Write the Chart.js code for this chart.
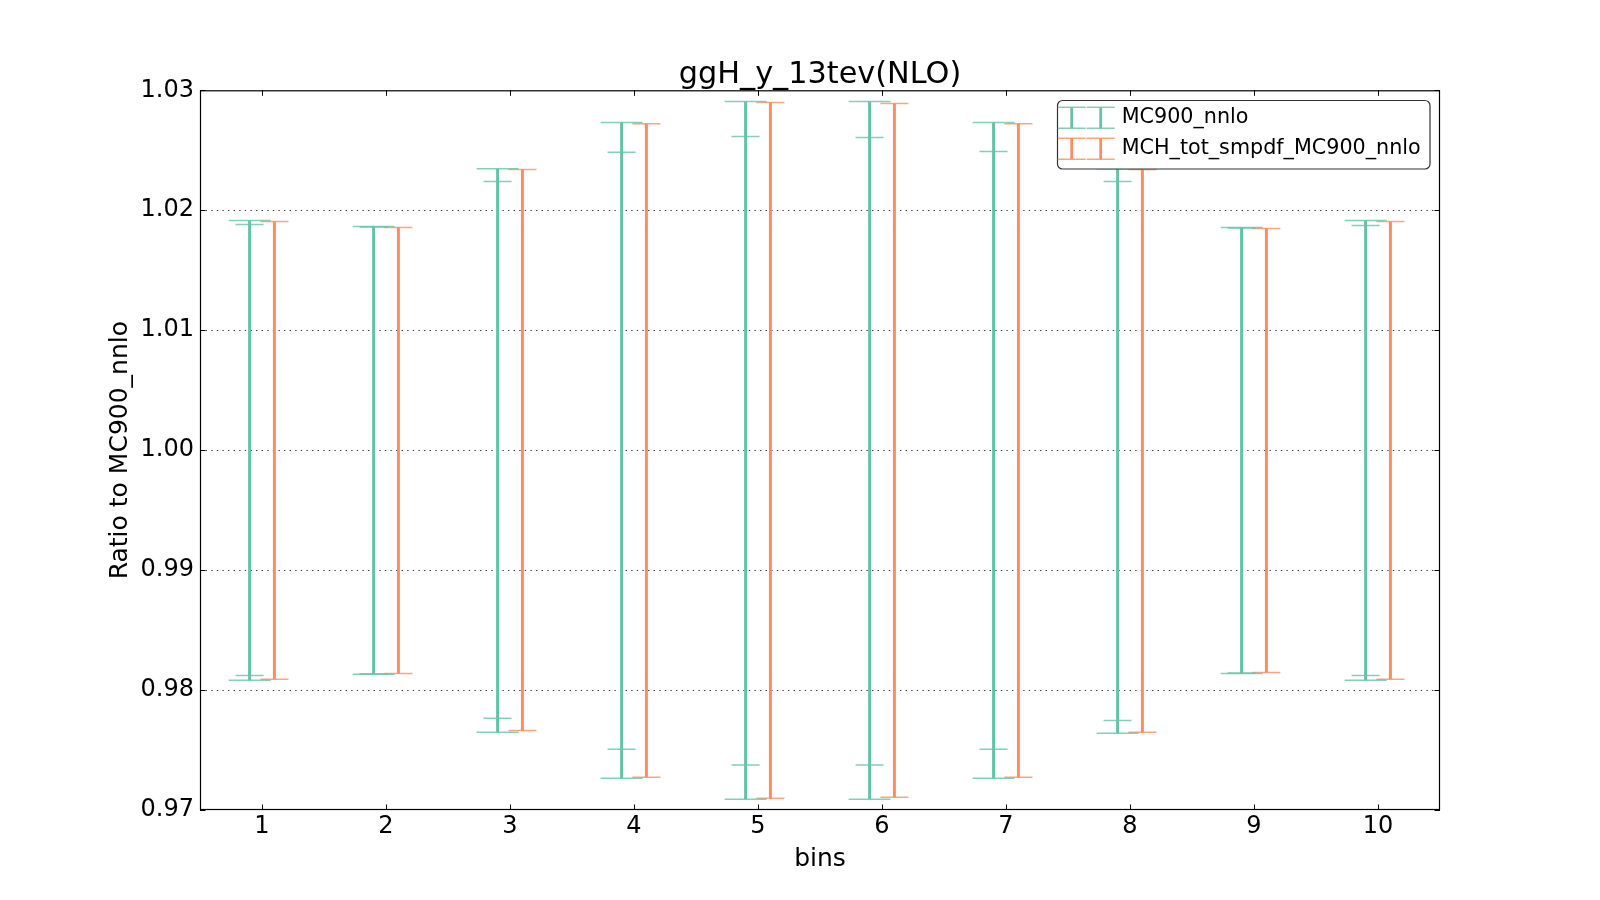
<!DOCTYPE html>
<html><head><meta charset="utf-8">
<script src="https://cdn.jsdelivr.net/npm/chart.js@4.4.0/dist/chart.umd.min.js"></script>
<style>html,body{margin:0;padding:0;background:#fff;overflow:hidden;}</style>
</head><body>
<canvas id="c" width="1600" height="900"></canvas>
<script>
// ---- data ----
const bins = [1, 2, 3, 4, 5, 6, 7, 8, 9, 10];
const xTickLabels = ['1', '2', '3', '4', '5', '6', '7', '8', '9', '10'];
const yTicks = [0.97, 0.98, 0.99, 1.00, 1.01, 1.02, 1.03];
const yTickLabels = ['0.97', '0.98', '0.99', '1.00', '1.01', '1.02', '1.03'];
const seriesNames = ['MC900_nnlo', 'MCH_tot_smpdf_MC900_nnlo'];
const titleText = 'ggH_y_13tev(NLO)';
const xLabel = 'bins';
const yLabel = 'Ratio to MC900_nnlo';

// MC900_nnlo: outer band (wide caps) and inner band (narrow caps)
const mc900Upper      = [1.01914, 1.01864, 1.02347, 1.02731, 1.02906, 1.02906, 1.02731, 1.02347, 1.01856, 1.01914];
const mc900Lower      = [0.98081, 0.98131, 0.97648, 0.97264, 0.97089, 0.97089, 0.97264, 0.97639, 0.98139, 0.98081];
const mc900InnerUpper = [1.01881, 1.01860, 1.02239, 1.02483, 1.02614, 1.02606, 1.02489, 1.02239, 1.01852, 1.01872];
const mc900InnerLower = [0.98122, 0.98135, 0.97764, 0.97506, 0.97375, 0.97375, 0.97506, 0.97747, 0.98143, 0.98122];
// MCH_tot_smpdf_MC900_nnlo
const mchUpper        = [1.01906, 1.01856, 1.02339, 1.02722, 1.02898, 1.02889, 1.02722, 1.02339, 1.01848, 1.01906];
const mchLower        = [0.98089, 0.98139, 0.97662, 0.97273, 0.97098, 0.97106, 0.97273, 0.97648, 0.98147, 0.98089];

// ---- styling ----
const GREEN = '#66c2a5';
const ORANGE = '#fc8d62';
const GREEN_CAP = 'rgba(102,194,165,0.8)';
const ORANGE_CAP = 'rgba(252,141,98,0.8)';
const SHIFT = 0.1;
const FONT = "'DejaVu Sans', sans-serif";

Chart.defaults.font.family = FONT;
Chart.defaults.color = '#000';

function barLine(lo, hi, dx) {
  const out = [];
  bins.forEach((b, i) => {
    out.push({x: b + dx, y: lo[i]});
    out.push({x: b + dx, y: hi[i]});
    out.push({x: b + dx, y: null});
  });
  return out;
}
function capPts(lo, hi, dx) {
  const out = [];
  bins.forEach((b, i) => {
    out.push({x: b + dx, y: hi[i]});
    out.push({x: b + dx, y: lo[i]});
  });
  return out;
}
function capSet(data, color, r) {
  return {type: 'line', data, showLine: false, pointStyle: 'line', pointRadius: r, pointHoverRadius: r,
          pointBorderWidth: 1.5, pointBorderColor: color, pointBackgroundColor: color, borderColor: color};
}
function lineSet(data, color) {
  return {type: 'line', data, borderColor: color, borderWidth: 3, pointRadius: 0, spanGaps: false, fill: false, tension: 0};
}

const frameTicks = {
  id: 'frameTicks',
  afterDatasetsDraw(chart) {
    const {ctx, chartArea: a, scales: {x, y}} = chart;
    ctx.save();
    ctx.strokeStyle = '#000';
    ctx.lineWidth = 1;
    ctx.beginPath();
    bins.forEach(b => {
      const px = Math.round(x.getPixelForValue(b)) + 0.5;
      ctx.moveTo(px, a.bottom); ctx.lineTo(px, a.bottom - 5.5);
      ctx.moveTo(px, a.top); ctx.lineTo(px, a.top + 5.5);
    });
    yTicks.forEach(v => {
      const py = Math.round(y.getPixelForValue(v)) + 0.5;
      ctx.moveTo(a.left, py); ctx.lineTo(a.left + 5.5, py);
      ctx.moveTo(a.right, py); ctx.lineTo(a.right - 5.5, py);
    });
    ctx.stroke();
    ctx.lineWidth = 1.2;
    ctx.strokeRect(a.left + 0.5, a.top + 0.5, a.right - a.left - 1, a.bottom - a.top - 1);
    ctx.restore();
  }
};

const errLegend = {
  id: 'errLegend',
  afterDraw(chart) {
    const ctx = chart.ctx;
    const bx = 1057.5, by = 100.5, bw = 372.5, bh = 68.5, r = 5;
    ctx.save();
    ctx.beginPath();
    ctx.roundRect(bx, by, bw, bh, r);
    ctx.fillStyle = '#fff';
    ctx.fill();
    ctx.lineWidth = 1.2;
    ctx.strokeStyle = '#333';
    ctx.stroke();
    const entries = [
      {name: seriesNames[0], color: GREEN, cap: GREEN_CAP, top: 107.3, bot: 128.3},
      {name: seriesNames[1], color: ORANGE, cap: ORANGE_CAP, top: 138.3, bot: 159.3}
    ];
    entries.forEach(e => {
      [1071.7, 1100.7].forEach(lx => {
        ctx.strokeStyle = e.color; ctx.lineWidth = 2.8;
        ctx.beginPath(); ctx.moveTo(lx, e.top); ctx.lineTo(lx, e.bot); ctx.stroke();
        ctx.strokeStyle = e.cap; ctx.lineWidth = 1.5;
        ctx.beginPath();
        ctx.moveTo(lx - 14, e.top); ctx.lineTo(lx + 14, e.top);
        ctx.moveTo(lx - 14, e.bot); ctx.lineTo(lx + 14, e.bot);
        ctx.stroke();
      });
      ctx.fillStyle = '#000';
      ctx.font = "20.7px " + FONT;
      ctx.textBaseline = 'middle';
      ctx.textAlign = 'left';
      ctx.fillText(e.name, 1121.7, (e.top + e.bot) / 2);
    });
    ctx.restore();
  }
};

new Chart(document.getElementById('c'), {
  type: 'line',
  data: {
    datasets: [
      lineSet(barLine(mc900Lower, mc900Upper, -SHIFT), GREEN),
      capSet(capPts(mc900Lower, mc900Upper, -SHIFT), GREEN_CAP, 21),
      capSet(capPts(mc900InnerLower, mc900InnerUpper, -SHIFT), GREEN_CAP, 14),
      lineSet(barLine(mchLower, mchUpper, SHIFT), ORANGE),
      capSet(capPts(mchLower, mchUpper, SHIFT), ORANGE_CAP, 14)
    ]
  },
  options: {
    responsive: false,
    animation: false,
    devicePixelRatio: 1,
    events: [],
    layout: {padding: {left: 0, right: 160, top: 0, bottom: 0}},
    plugins: {
      legend: {display: false},
      tooltip: {enabled: false},
      title: {
        display: true, text: titleText, color: '#000', fullSize: false,
        font: {family: FONT, size: 30.3, weight: 'normal', lineHeight: 1.0},
        padding: {top: 60, bottom: 0}
      }
    },
    scales: {
      x: {
        type: 'linear', min: 0.5, max: 10.5,
        afterFit(s) { s.height = 90; },
        afterBuildTicks(s) { s.ticks = bins.map(v => ({value: v})); },
        grid: {display: false, drawTicks: false},
        border: {display: false},
        ticks: {
          font: {family: FONT, size: 24}, color: '#000', padding: 2.4, maxRotation: 0, autoSkip: false,
          callback(v, i) { return xTickLabels[i]; }
        },
        title: {display: true, text: xLabel, color: '#000', font: {family: FONT, size: 25, lineHeight: 1.2}, padding: {top: 0, bottom: 26}}
      },
      y: {
        type: 'linear', min: 0.97, max: 1.03,
        afterFit(s) { s.width = 200; },
        afterBuildTicks(s) { s.ticks = yTicks.map(v => ({value: v})); },
        grid: {
          drawTicks: false, lineWidth: 1,
          color(ctx) { return (ctx.index === 0 || ctx.index === yTicks.length - 1) ? 'rgba(0,0,0,0)' : 'rgba(0,0,0,0.75)'; }
        },
        border: {display: false, dash: [1.4, 4.2]},
        ticks: {
          font: {family: FONT, size: 24}, color: '#000', padding: 6, autoSkip: false,
          callback(v, i) { return yTickLabels[i]; }
        },
        title: {display: true, text: yLabel, color: '#000', font: {family: FONT, size: 25, lineHeight: 1.2}, padding: {top: 105, bottom: 0}}
      }
    }
  },
  plugins: [frameTicks, errLegend]
});
</script>
</body></html>
